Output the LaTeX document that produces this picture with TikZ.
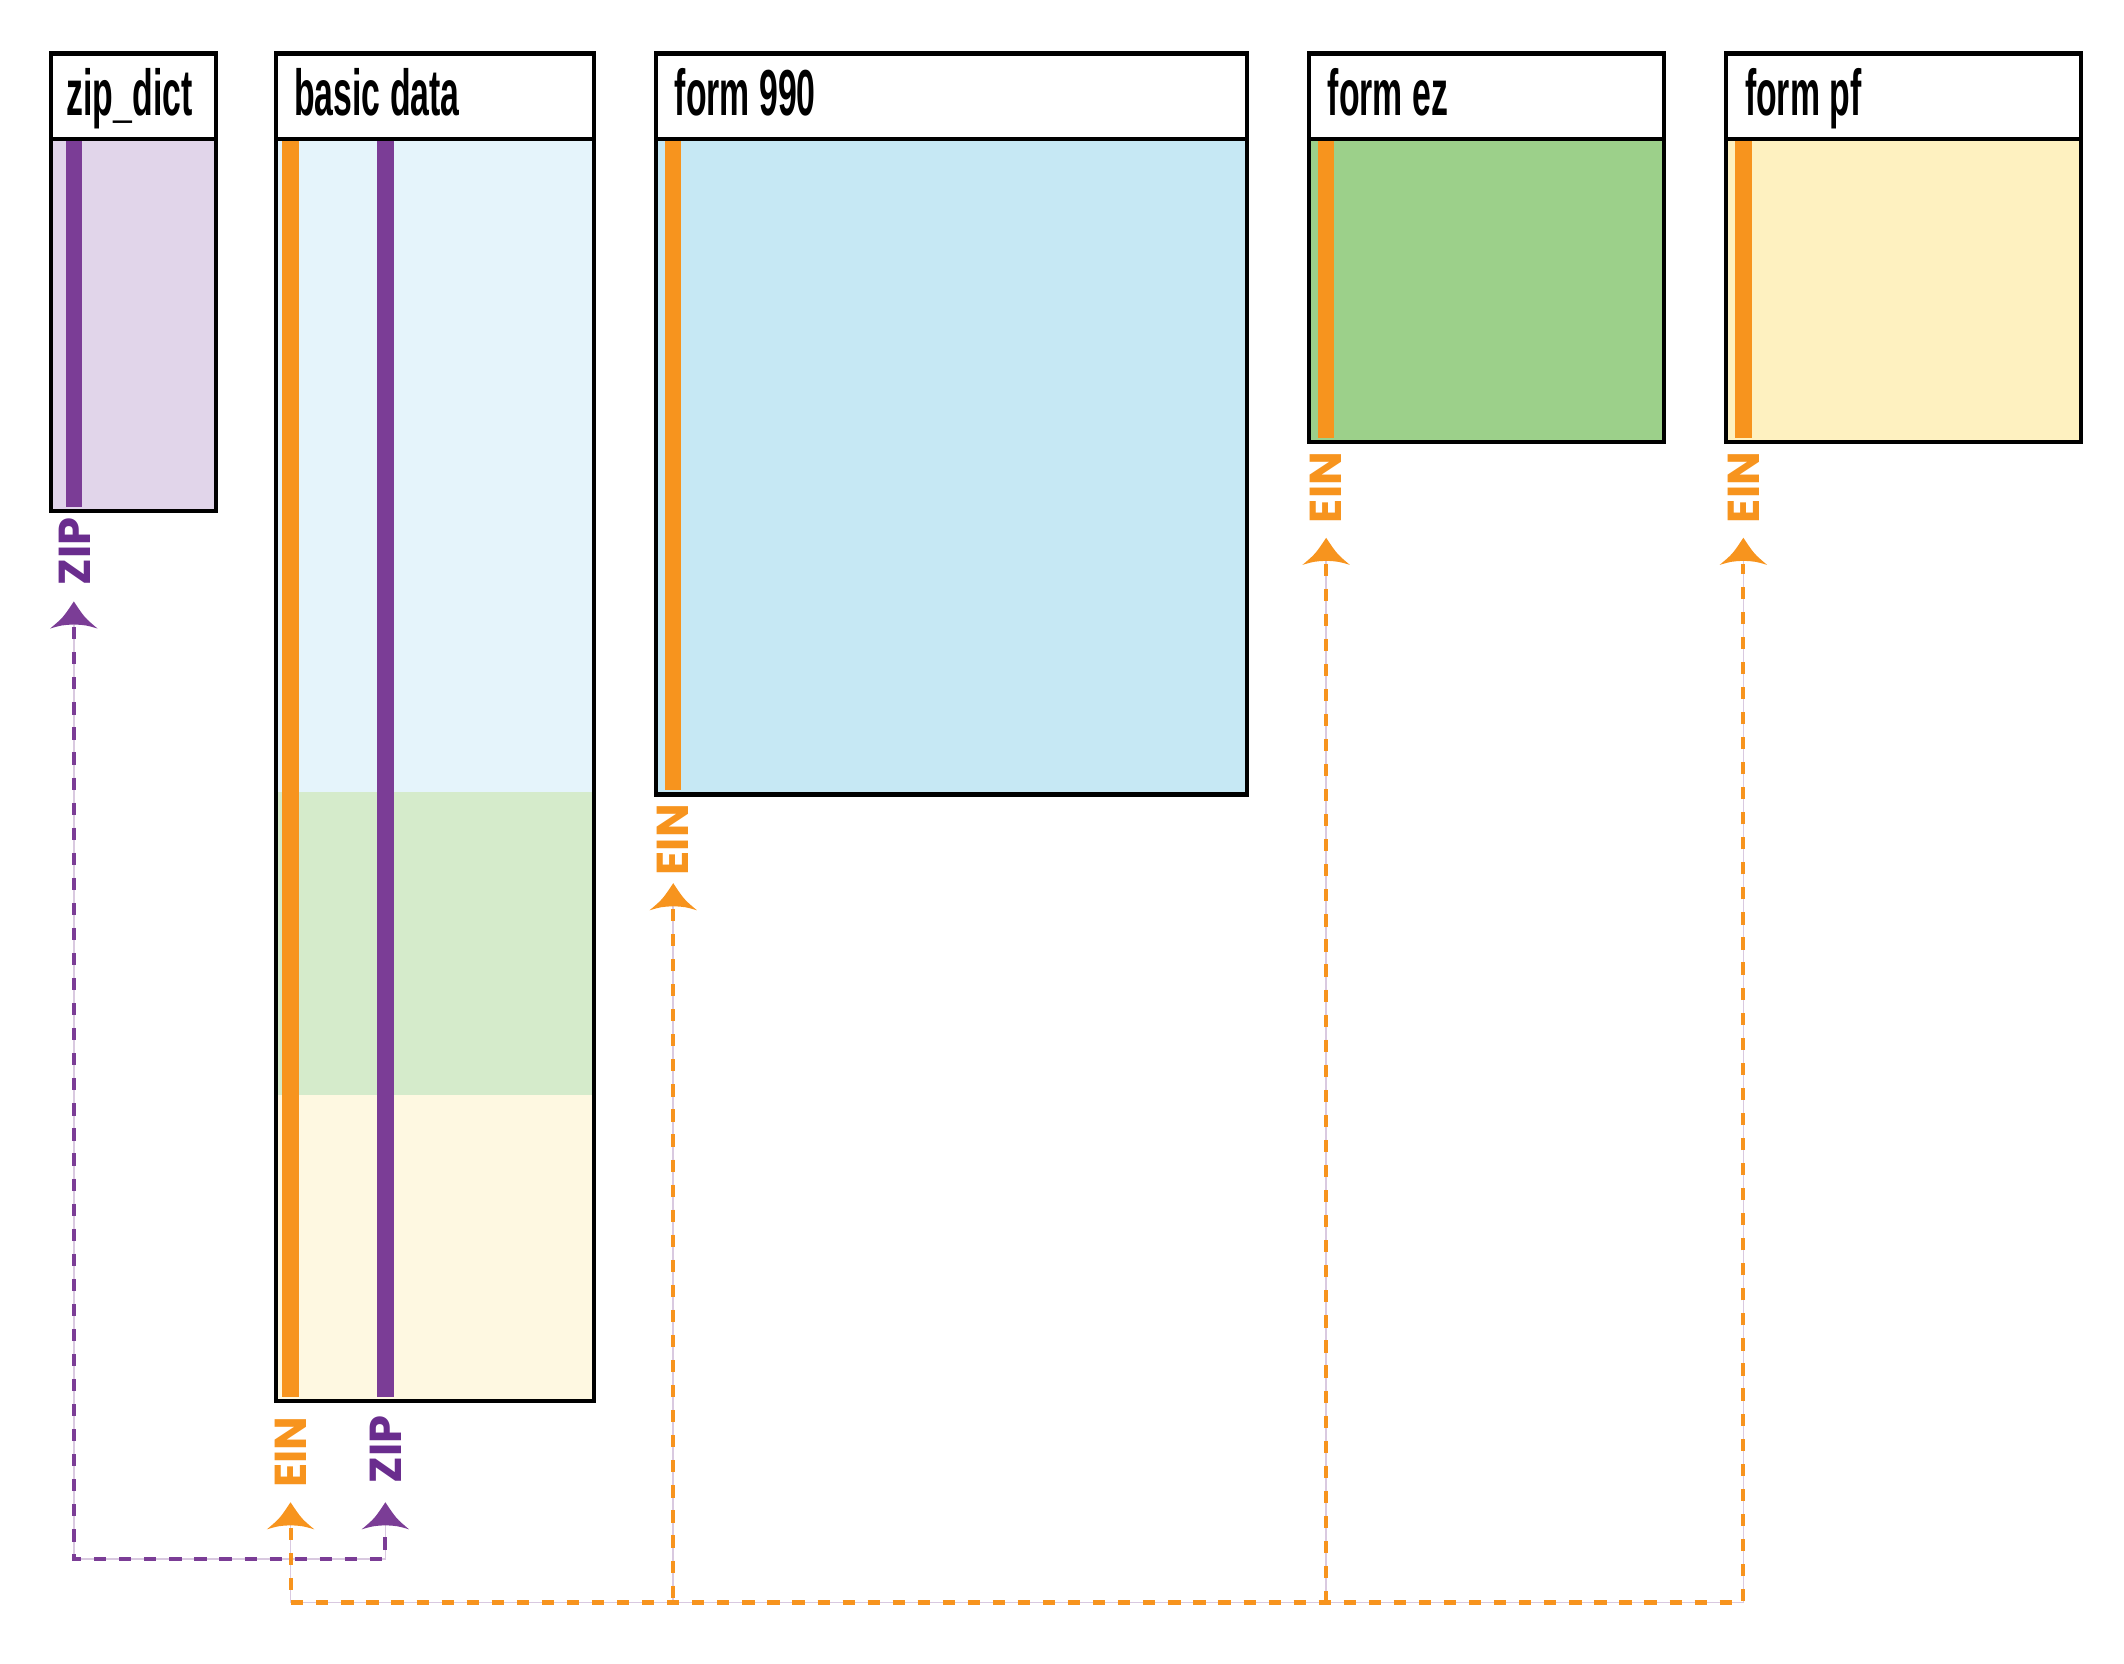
\documentclass[tikz,border=0pt]{standalone}
\usepackage{fontspec}
\usetikzlibrary{calc}
\setmainfont{Liberation Sans}
\newfontfamily\hdrfont[FakeStretch=0.52]{Liberation Sans}
\newfontfamily\lblfont{Poppins}
\definecolor{eino}{HTML}{F7941E}
\definecolor{zipp}{HTML}{7B3D96}
\definecolor{zipl}{HTML}{6A2D8E}
\definecolor{under}{HTML}{D9C9E0}
\definecolor{zdfill}{HTML}{E1D5EA}
\definecolor{bdblue}{HTML}{E5F4FB}
\definecolor{bdgreen}{HTML}{D5EBCB}
\definecolor{bdyellow}{HTML}{FEF8E1}
\definecolor{nnfill}{HTML}{C6E8F4}
\definecolor{ezfill}{HTML}{9CD08A}
\definecolor{pffill}{HTML}{FEF1C0}
\begin{document}
\begin{tikzpicture}[x=1pt,y=-1pt,
  frame/.style={draw=black, line width=3pt, anchor=north west, inner sep=0pt},
  hdrtext/.style={font=\hdrfont\bfseries\fontsize{48}{52}\selectfont, anchor=base west, inner sep=0pt},
  lbl/.style={font=\lblfont\bfseries\fontsize{33}{35}\selectfont, rotate=90, inner sep=0pt},
  stripe/.style={line width=12pt},
  underline/.style={draw=under, line width=1.2pt},
  zipdash/.style={draw=zipp, line width=3pt, dash pattern=on 9pt off 9.5pt},
  eindash/.style={draw=eino, line width=3pt, dash pattern=on 9pt off 9.5pt},
  arrowup/.pic={\fill (0,0) .. controls (-8,12) .. (-17.5,20) .. controls (-9,17.5) .. (0,17) .. controls (9,17.5) .. (17.5,20) .. controls (8,12) .. (0,0) -- cycle;}
]
\useasboundingbox (0,0) rectangle (1568,1228);

% ---------- zip_dict ----------
\node[frame, fill=zdfill, minimum width=122pt, minimum height=275pt] (zdb) at (36,101) {};
\draw[stripe, zipp] (54.5,102.5) -- (54.5,374.5);
\node[frame, minimum width=122pt, minimum height=275pt] (zdbf) at (36,101) {};
\node[frame, fill=white, minimum width=122pt, minimum height=63pt] (zdh) at (36,38) {};
\node[hdrtext] (zdt) at (49,85) {zip\_dict};

% ---------- basic data ----------
\fill[bdblue] (202,101) rectangle (437,585);
\fill[bdgreen] (202,585) rectangle (437,808);
\fill[bdyellow] (202,808) rectangle (437,1033);
\draw[stripe, eino] (214.5,102.5) -- (214.5,1031.5);
\draw[stripe, zipp] (284.5,102.5) -- (284.5,1031.5);
\node[frame, minimum width=235pt, minimum height=932pt] (bdb) at (202,101) {};
\node[frame, fill=white, minimum width=235pt, minimum height=63pt] (bdh) at (202,38) {};
\node[hdrtext] (bdt) at (217,85) {basic data};

% ---------- form 990 ----------
\node[frame, fill=nnfill, minimum width=436pt, minimum height=484pt] (nnb) at (483,101) {};
\draw[stripe, eino] (497,102.5) -- (497,583.5);
\node[frame, minimum width=436pt, minimum height=484pt] (nnbf) at (483,101) {};
\node[frame, fill=white, minimum width=436pt, minimum height=63pt] (nnh) at (483,38) {};
\node[hdrtext] (nnt) at (498,85) {form 990};

% ---------- form ez ----------
\node[frame, fill=ezfill, minimum width=262pt, minimum height=224pt] (ezb) at (965,101) {};
\draw[stripe, eino] (979,102.5) -- (979,323.5);
\node[frame, minimum width=262pt, minimum height=224pt] (ezbf) at (965,101) {};
\node[frame, fill=white, minimum width=262pt, minimum height=63pt] (ezh) at (965,38) {};
\node[hdrtext] (ezt) at (980,85) {form ez};

% ---------- form pf ----------
\node[frame, fill=pffill, minimum width=262pt, minimum height=224pt] (pfb) at (1273,101) {};
\draw[stripe, eino] (1287,102.5) -- (1287,323.5);
\node[frame, minimum width=262pt, minimum height=224pt] (pfbf) at (1273,101) {};
\node[frame, fill=white, minimum width=262pt, minimum height=63pt] (pfh) at (1273,38) {};
\node[hdrtext] (pft) at (1288,85) {form pf};

% ---------- labels ----------
\node[lbl, text=zipl] (zdl) at (55,407) {ZIP};
\node[lbl, text=eino] (bdel) at (215,1072) {EIN};
\node[lbl, text=zipl] (bdzl) at (285,1070) {ZIP};
\node[lbl, text=eino] (nnl) at (497,620) {EIN};
\node[lbl, text=eino] (ezl) at (979,360) {EIN};
\node[lbl, text=eino] (pfl) at (1287,360) {EIN};

% ---------- arrow tips ----------
\coordinate (zdA) at (54.5,444);
\coordinate (bdE) at (214.5,1109);
\coordinate (bdZ) at (284.5,1109);
\coordinate (nnA) at (497,652);
\coordinate (ezA) at (979,397);
\coordinate (pfA) at (1287,397);
\coordinate (pbus) at (0,1151);
\coordinate (obus) at (0,1183);

% ---------- connectors ----------
\draw[underline] ($(zdA)+(0,14)$) -- (zdA |- pbus) -- (bdZ |- pbus) -- ($(bdZ)+(0,14)$);
\draw[underline] ($(bdE)+(0,14)$) -- (bdE |- obus) -- (pfA |- obus) -- ($(pfA)+(0,14)$);
\draw[underline] ($(nnA)+(0,14)$) -- (nnA |- obus);
\draw[underline] ($(ezA)+(0,14)$) -- (ezA |- obus);

\draw[zipdash] ($(zdA)+(0,19)$) -- (zdA |- pbus) -- (bdZ |- pbus) -- ($(bdZ)+(0,19)$);
\draw[eindash] ($(bdE)+(0,19)$) -- (bdE |- obus) -- (pfA |- obus) -- ($(pfA)+(0,19)$);
\draw[eindash] ($(nnA)+(0,19)$) -- (nnA |- obus);
\draw[eindash] ($(ezA)+(0,19)$) -- (ezA |- obus);

% ---------- arrowheads ----------
\pic[color=zipp] at (zdA) {arrowup};
\pic[color=zipp] at (bdZ) {arrowup};
\pic[color=eino] at (bdE) {arrowup};
\pic[color=eino] at (nnA) {arrowup};
\pic[color=eino] at (ezA) {arrowup};
\pic[color=eino] at (pfA) {arrowup};
\end{tikzpicture}
\end{document}
